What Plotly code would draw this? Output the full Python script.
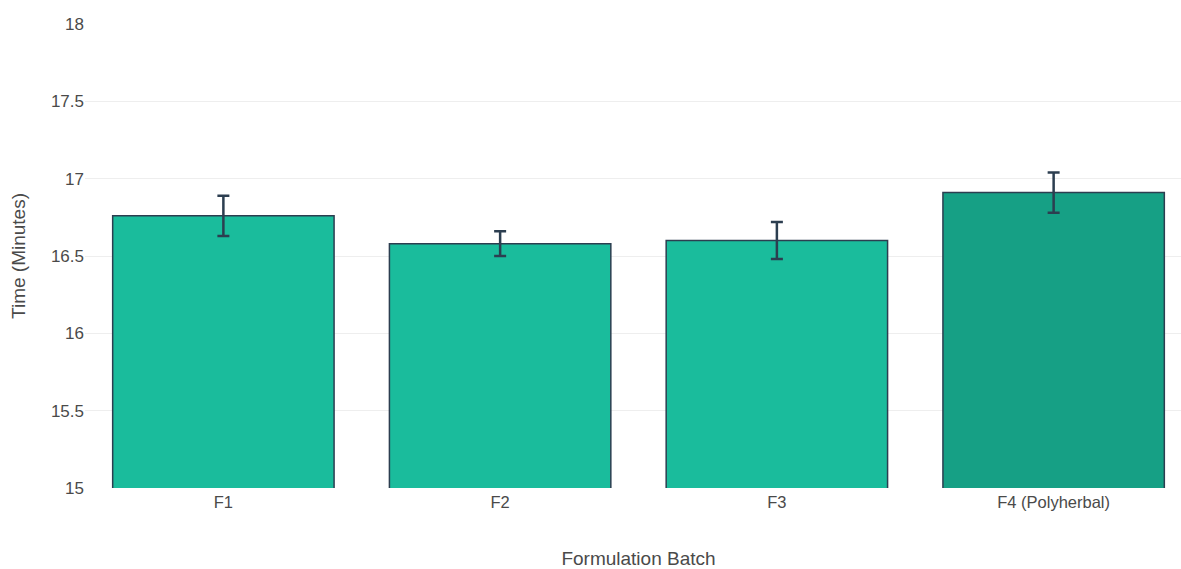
import plotly.graph_objects as go

categories = ["F1", "F2", "F3", "F4 (Polyherbal)"]
times = [16.76, 16.58, 16.60, 16.91]
errors = [0.13, 0.08, 0.12, 0.13]
bar_colors = ["#1abc9c", "#1abc9c", "#1abc9c", "#16a085"]

fig = go.Figure(
    go.Bar(
        x=categories,
        y=times,
        marker=dict(color=bar_colors, line=dict(color="#2c3e50", width=1.5)),
        error_y=dict(type="data", array=errors, visible=True, color="#2c3e50",
                     thickness=2.5, width=6),
    )
)

fig.update_layout(
    width=1200,
    height=569,
    margin=dict(l=85, r=8, t=24, b=81),
    plot_bgcolor="white",
    paper_bgcolor="white",
    bargap=0.2,
    showlegend=False,
    font=dict(family="Liberation Sans, Arial, sans-serif", size=16, color="#4a4a4a"),
    xaxis=dict(
        title=dict(text="Formulation Batch", font=dict(size=19), standoff=44),
        showgrid=False,
        showline=False,
        ticks="",
        tickfont=dict(size=16.5),
        ticklabelstandoff=2,
        automargin=False,
    ),
    yaxis=dict(
        title=dict(text="Time (Minutes)", font=dict(size=19), standoff=20),
        range=[15, 18],
        dtick=0.5,
        gridcolor="#eeeeee",
        zeroline=False,
        showline=False,
        ticks="",
        tickfont=dict(size=17),
        automargin=False,
    ),
)

fig.write_html("out.html")
